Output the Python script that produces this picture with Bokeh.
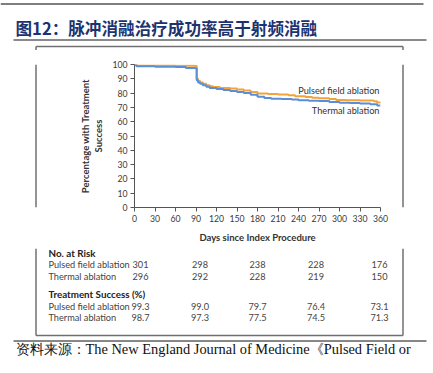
from bokeh.plotting import figure
from bokeh.models import Label, Range1d, FixedTicker
from bokeh.layouts import column, row
from bokeh.core.properties import value
from bokeh.embed import file_html
from bokeh.resources import INLINE

# ---------------- data ----------------
pfa_days = [0, 2, 30, 60, 88, 91, 93, 96, 100, 105, 110, 115, 125, 140, 150, 160, 170, 180,
            195, 210, 225, 235, 250, 260, 270, 285, 295, 310, 330, 350, 355, 360]
pfa_pct = [100, 99.3, 99.3, 99.2, 99.0, 90.0, 88.5, 87.5, 86.5, 85.5, 84.8, 84.2, 83.5, 83.2,
           82.5, 81.8, 80.8, 79.7, 79.3, 79.0, 78.5, 77.8, 77.2, 76.8, 76.4, 75.8, 75.2, 75.0,
           74.8, 74.3, 73.5, 73.1]
th_days = [0, 3, 30, 60, 75, 89, 91, 93, 96, 100, 105, 110, 120, 130, 140, 150, 160, 170, 180,
           190, 200, 215, 230, 240, 255, 270, 285, 300, 315, 330, 345, 355, 360]
th_pct = [100, 98.7, 98.5, 98.2, 97.6, 97.3, 89.0, 87.5, 86.5, 85.5, 84.5, 83.5, 82.8, 82.2,
          81.5, 80.8, 80.0, 78.8, 77.5, 76.5, 76.0, 75.8, 75.5, 75.0, 74.7, 74.5, 73.8, 73.3,
          73.0, 72.8, 72.2, 71.3, 71.3]

groups = ["Pulsed field ablation", "Thermal ablation"]
table_days = [0, 90, 180, 270, 360]
risk_pfa = [301, 298, 238, 228, 176]
risk_th = [296, 292, 228, 219, 150]
succ_pfa = [99.3, 99.0, 79.7, 76.4, 73.1]
succ_th = [98.7, 97.3, 77.5, 74.5, 71.3]

x_ticks = list(range(0, 361, 30))
y_ticks = list(range(0, 101, 10))

title_text = "图12：脉冲消融治疗成功率高于射频消融"
source_text = "资料来源：The New England Journal of Medicine《Pulsed Field or"
x_label = "Days since Index Procedure"
y_label = "Percentage with Treatment\nSuccess"
risk_header = "No. at Risk"
succ_header = "Treatment Success (%)"

# ---------------- layout (page pixels) ----------------
W = 428
TOP_H = 50          # title band
MID_B = 248         # bottom of chart band
H = 368
BOX_L, BOX_R, BOX_T, BOX_B = 35.5, 402.5, 46, 335
CH_L, CH_R = 40, 398            # chart figure canvas span
FL, FR, FT, FB = 134, 380, 64, 207  # chart frame

FONT = "Lato"
ORANGE = "#F2A33A"
BLUE = "#5B8ED8"
BOX_COLOR = "#707070"


def dx(px):
    return (px - FL) / (FR - FL) * 360.0


def dy(py):
    return (FB - py) / (FB - FT) * 100.0


def aux(x0, x1, y0, y1):
    f = figure(width=int(x1 - x0), height=int(y1 - y0),
               x_range=Range1d(x0, x1), y_range=Range1d(y1, y0),
               min_border=0, x_axis_type=None, y_axis_type=None,
               toolbar_location=None, output_backend="svg", title=None)
    f.outline_line_color = None
    f.background_fill_color = "white"
    f.border_fill_color = "white"
    return f


def seg(f, x0, y0, x1, y1, color, width):
    f.segment(x0=[x0], y0=[y0], x1=[x1], y1=[y1], line_color=color, line_width=width)


def txt(f, xs, ys, texts, align="left", font=FONT, size="9.2px", style="normal", color="#444444"):
    f.text(x=xs, y=ys, text=texts, text_align=align, text_baseline="middle",
           text_font=value(font), text_font_size=value(size), text_font_style=style,
           text_color=color)


# ---- top band: header rule, title, rule, top of box ----
top = aux(0, W, 0, TOP_H)
seg(top, 0, 3.5, 423, 3.5, "#000000", 1.2)
txt(top, [15], [27], [title_text], font="Noto Sans CJK SC", size="16.6px", style="bold",
    color="#1c3370")
seg(top, 13, 39.5, 426, 39.5, "#8a8a8a", 2)
seg(top, BOX_L, BOX_T, BOX_R, BOX_T, BOX_COLOR, 1.5)
seg(top, BOX_L, BOX_T, BOX_L, TOP_H, BOX_COLOR, 1.5)
seg(top, BOX_R, BOX_T, BOX_R, TOP_H, BOX_COLOR, 1.5)

# ---- middle band sides ----
left = aux(0, CH_L, TOP_H, MID_B)
seg(left, BOX_L, TOP_H, BOX_L, MID_B, BOX_COLOR, 1.5)
right = aux(CH_R, W, TOP_H, MID_B)
seg(right, BOX_R, TOP_H, BOX_R, MID_B, BOX_COLOR, 1.5)

# ---- chart ----
p = figure(frame_width=FR - FL, frame_height=FB - FT,
           min_border_left=FL - CH_L, min_border_right=CH_R - FR,
           min_border_top=FT - TOP_H, min_border_bottom=MID_B - FB,
           x_range=Range1d(0, 360), y_range=Range1d(0, 100),
           output_backend="svg", toolbar_location=None, title=None)
p.outline_line_color = None
p.grid.grid_line_color = None
p.background_fill_color = "white"
p.border_fill_color = "white"

for ax in (p.xaxis[0], p.yaxis[0]):
    ax.axis_line_color = "#555555"
    ax.axis_line_width = 1
    ax.major_tick_line_color = "#555555"
    ax.major_tick_out = 4
    ax.major_tick_in = 0
    ax.minor_tick_line_color = None
    ax.major_label_text_font = FONT
    ax.major_label_text_font_size = "8.7px"
    ax.major_label_text_color = "#3a3a3a"
    ax.axis_label_text_font = FONT
    ax.axis_label_text_font_style = "bold"
    ax.axis_label_text_font_size = "9.5px"
    ax.axis_label_text_color = "#333333"

p.xaxis.ticker = FixedTicker(ticks=x_ticks)
p.yaxis.ticker = FixedTicker(ticks=y_ticks)
p.xaxis.major_label_standoff = 3
p.yaxis.major_label_standoff = 3
p.xaxis.axis_label = x_label
p.yaxis.axis_label = y_label
p.xaxis.axis_label_standoff = 7
p.yaxis.axis_label_standoff = 5

p.step(pfa_days, pfa_pct, mode="after", line_color=ORANGE, line_width=2)
p.step(th_days, th_pct, mode="after", line_color=BLUE, line_width=2)

p.add_layout(Label(x=dx(379), y=dy(90), text=groups[0], text_align="right",
                   text_baseline="middle", text_font=FONT, text_font_size="9.2px",
                   text_color="#333333"))
p.add_layout(Label(x=dx(379), y=dy(110), text=groups[1], text_align="right",
                   text_baseline="middle", text_font=FONT, text_font_size="9.2px",
                   text_color="#333333"))

# ---- bottom band: table, box bottom, rule, source ----
bot = aux(0, W, MID_B, H)
seg(bot, BOX_L, MID_B, BOX_L, BOX_B, BOX_COLOR, 1.5)
seg(bot, BOX_R, MID_B, BOX_R, BOX_B, BOX_COLOR, 1.5)
seg(bot, BOX_L, BOX_B, BOX_R, BOX_B, BOX_COLOR, 1.5)
seg(bot, 13, 340.5, 426, 340.5, "#111111", 1)
txt(bot, [15], [348], [source_text], font="Liberation Serif", size="14.4px", color="#111111")

col_x = [FL + (FR - FL) * d / 360.0 for d in table_days]
col_shift = [6, 4, 0, -3, -1]
NAME_X = 48
rows = [
    (risk_header, None, 252.5),
    (groups[0], [str(v) for v in risk_pfa], 264),
    (groups[1], [str(v) for v in risk_th], 275.5),
    (succ_header, None, 293.5),
    (groups[0], [f"{v:.1f}" for v in succ_pfa], 305.5),
    (groups[1], [f"{v:.1f}" for v in succ_th], 317),
]
for name, vals, py in rows:
    if vals is None:
        txt(bot, [NAME_X], [py], [name], size="9.8px", style="bold", color="#222222")
    else:
        txt(bot, [NAME_X], [py], [name])
        txt(bot, [cx + s for cx, s in zip(col_x, col_shift)], [py] * len(vals), vals,
            align="center")

layout = column(top, row(left, p, right), bot)
open("out.html", "w").write(file_html(layout, INLINE))
